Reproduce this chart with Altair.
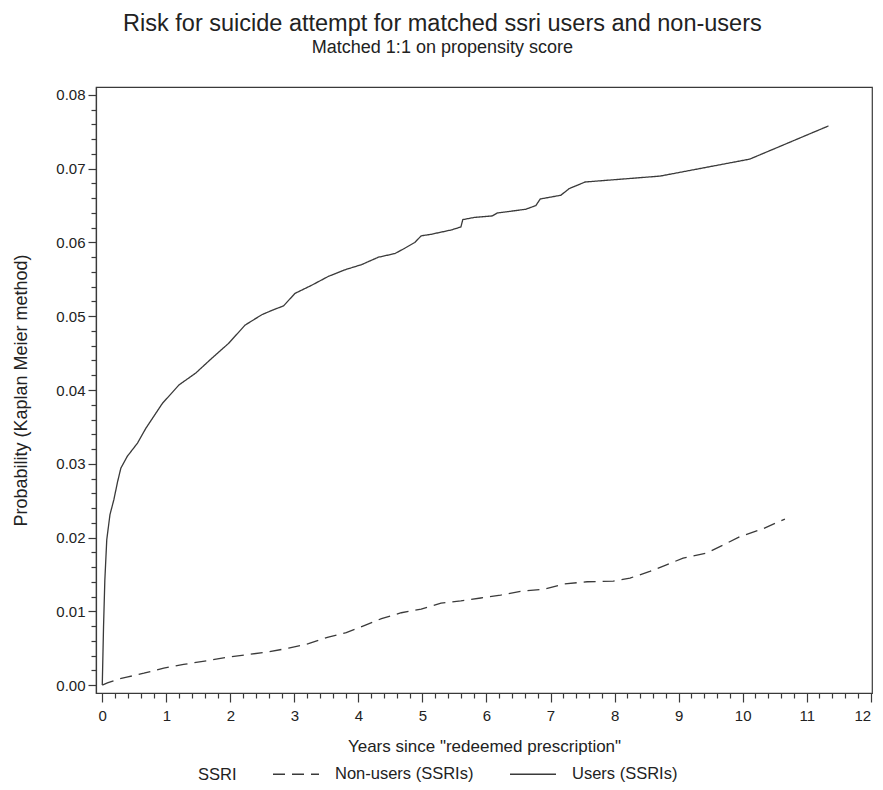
import altair as alt
import pandas as pd

users_years = [0, 0.01, 0.02, 0.04, 0.07, 0.12, 0.18, 0.24, 0.29, 0.39, 0.55, 0.68, 0.94, 1.20, 1.46,
               1.71, 1.97, 2.23, 2.49, 2.65, 2.83, 3.01, 3.27, 3.53, 3.79, 4.05, 4.31, 4.57, 4.72,
               4.88, 4.98, 5.13, 5.45, 5.60, 5.63, 5.81, 6.09, 6.17, 6.61, 6.77, 6.84, 7.16, 7.29,
               7.54, 8.71, 10.11, 11.34]
users_prob = [0, 0.004, 0.008, 0.0142, 0.0197, 0.0231, 0.0251, 0.0276, 0.0294, 0.0310, 0.0328, 0.0348,
              0.0382, 0.0407, 0.0423, 0.0443, 0.0463, 0.0488, 0.0502, 0.0508, 0.0514, 0.0531, 0.0542,
              0.0554, 0.0563, 0.0570, 0.0580, 0.0585, 0.0592, 0.0600, 0.0609, 0.0611, 0.0617, 0.0621,
              0.0631, 0.0634, 0.0636, 0.0640, 0.0645, 0.0650, 0.0659, 0.0664, 0.0673, 0.0682, 0.0690,
              0.0713, 0.0758]

nonusers_years = [0, 0.08, 0.25, 0.40, 0.65, 0.96, 1.27, 1.64, 1.97, 2.60, 2.91, 3.22, 3.53, 3.81,
                  4.10, 4.36, 4.67, 4.98, 5.29, 5.60, 5.91, 6.22, 6.53, 6.90, 7.21, 7.57, 7.98, 8.24,
                  8.55, 8.81, 9.07, 9.44, 9.70, 9.95, 10.32, 10.66]
nonusers_prob = [0, 0.0003, 0.0008, 0.0011, 0.0016, 0.0023, 0.0028, 0.0033, 0.0038, 0.0045, 0.0050,
                 0.0056, 0.0065, 0.0071, 0.0081, 0.0090, 0.0098, 0.0103, 0.0111, 0.0114, 0.0118,
                 0.0122, 0.0127, 0.0130, 0.0137, 0.0140, 0.0141, 0.0145, 0.0154, 0.0163, 0.0172,
                 0.0179, 0.0190, 0.0201, 0.0212, 0.0225]

groups = ["Non-users (SSRIs)", "Users (SSRIs)"]

x_ticks = [round(i * 0.2, 1) for i in range(61)]
y_ticks = [round(i * 0.002, 3) for i in range(41)]

df = pd.concat([
    pd.DataFrame({"year": nonusers_years, "prob": nonusers_prob, "group": groups[0]}),
    pd.DataFrame({"year": users_years, "prob": users_prob, "group": groups[1]}),
])

FONT = "Liberation Sans"
INK = "#222222"
LINE = "#3a3a3a"

chart = alt.Chart(df).mark_line(strokeWidth=1.3, color=LINE).encode(
    x=alt.X("year:Q",
            scale=alt.Scale(domain=[-0.098, 12.02], nice=False, zero=False),
            axis=alt.Axis(
                title='Years since "redeemed prescription"',
                values=x_ticks,
                labelExpr="round(datum.value*5) % 5 == 0 ? format(datum.value, 'd') : ''",
                tickSize={"condition": {"test": "round(datum.value*5) % 5 != 0", "value": 5}, "value": 9},
                labelPadding=6,
                titlePadding=15,
                titleFontSize=17,
                labelFlush=3,
                labelOverlap=False,
                grid=False,
            )),
    y=alt.Y("prob:Q",
            scale=alt.Scale(domain=[-0.00108, 0.08108], nice=False, zero=False),
            axis=alt.Axis(
                title="Probability (Kaplan Meier method)",
                values=y_ticks,
                labelExpr="round(datum.value*500) % 5 == 0 ? format(datum.value, '.2f') : ''",
                tickSize={"condition": {"test": "round(datum.value*500) % 5 != 0", "value": 5}, "value": 8},
                labelPadding=3,
                titlePadding=25,
                titleFontSize=18,
                labelFlush=False,
                labelOverlap=False,
                grid=False,
            )),
    strokeDash=alt.StrokeDash(
        "group:N",
        scale=alt.Scale(domain=groups, range=[[12, 7], [1, 0]]),
        legend=alt.Legend(
            title="SSRI",
            orient="none",
            legendX=102,
            legendY=663,
            direction="horizontal",
            titleOrient="left",
            titleAnchor="end",
            titleBaseline="bottom",
            titlePadding=35,
            symbolType="stroke",
            symbolSize=2116,
            symbolStrokeColor=LINE,
            symbolStrokeWidth=1.3,
            labelOffset=15,
            columnPadding=33,
        ),
    ),
).properties(
    width=776,
    height=606,
    autosize=alt.AutoSizeParams(type="none"),
    padding={"left": 88, "top": 79, "right": 3, "bottom": 89},
    title=alt.Title(
        "Risk for suicide attempt for matched ssri users and non-users",
        subtitle="Matched 1:1 on propensity score",
        anchor="middle",
        frame="bounds",
        offset=30,
        subtitlePadding=4,
    ),
).configure_view(
    stroke=LINE, strokeWidth=1.2
).configure_axis(
    labelFont=FONT, titleFont=FONT, labelFontSize=15, titleFontSize=17,
    labelColor=INK, titleColor=INK, titleFontWeight="normal",
    tickColor=LINE, domainColor=LINE, tickWidth=1.2, domainWidth=1.2,
).configure_legend(
    labelFont=FONT, titleFont=FONT, labelFontSize=16.5, titleFontSize=16.5,
    labelColor=INK, titleColor=INK, titleFontWeight="normal",
).configure_title(
    font=FONT, fontSize=23.5, fontWeight="normal", color=INK,
    subtitleFont=FONT, subtitleFontSize=18, subtitleColor=INK,
)

chart.save("out.html", embed_options={"renderer": "svg", "actions": False})
